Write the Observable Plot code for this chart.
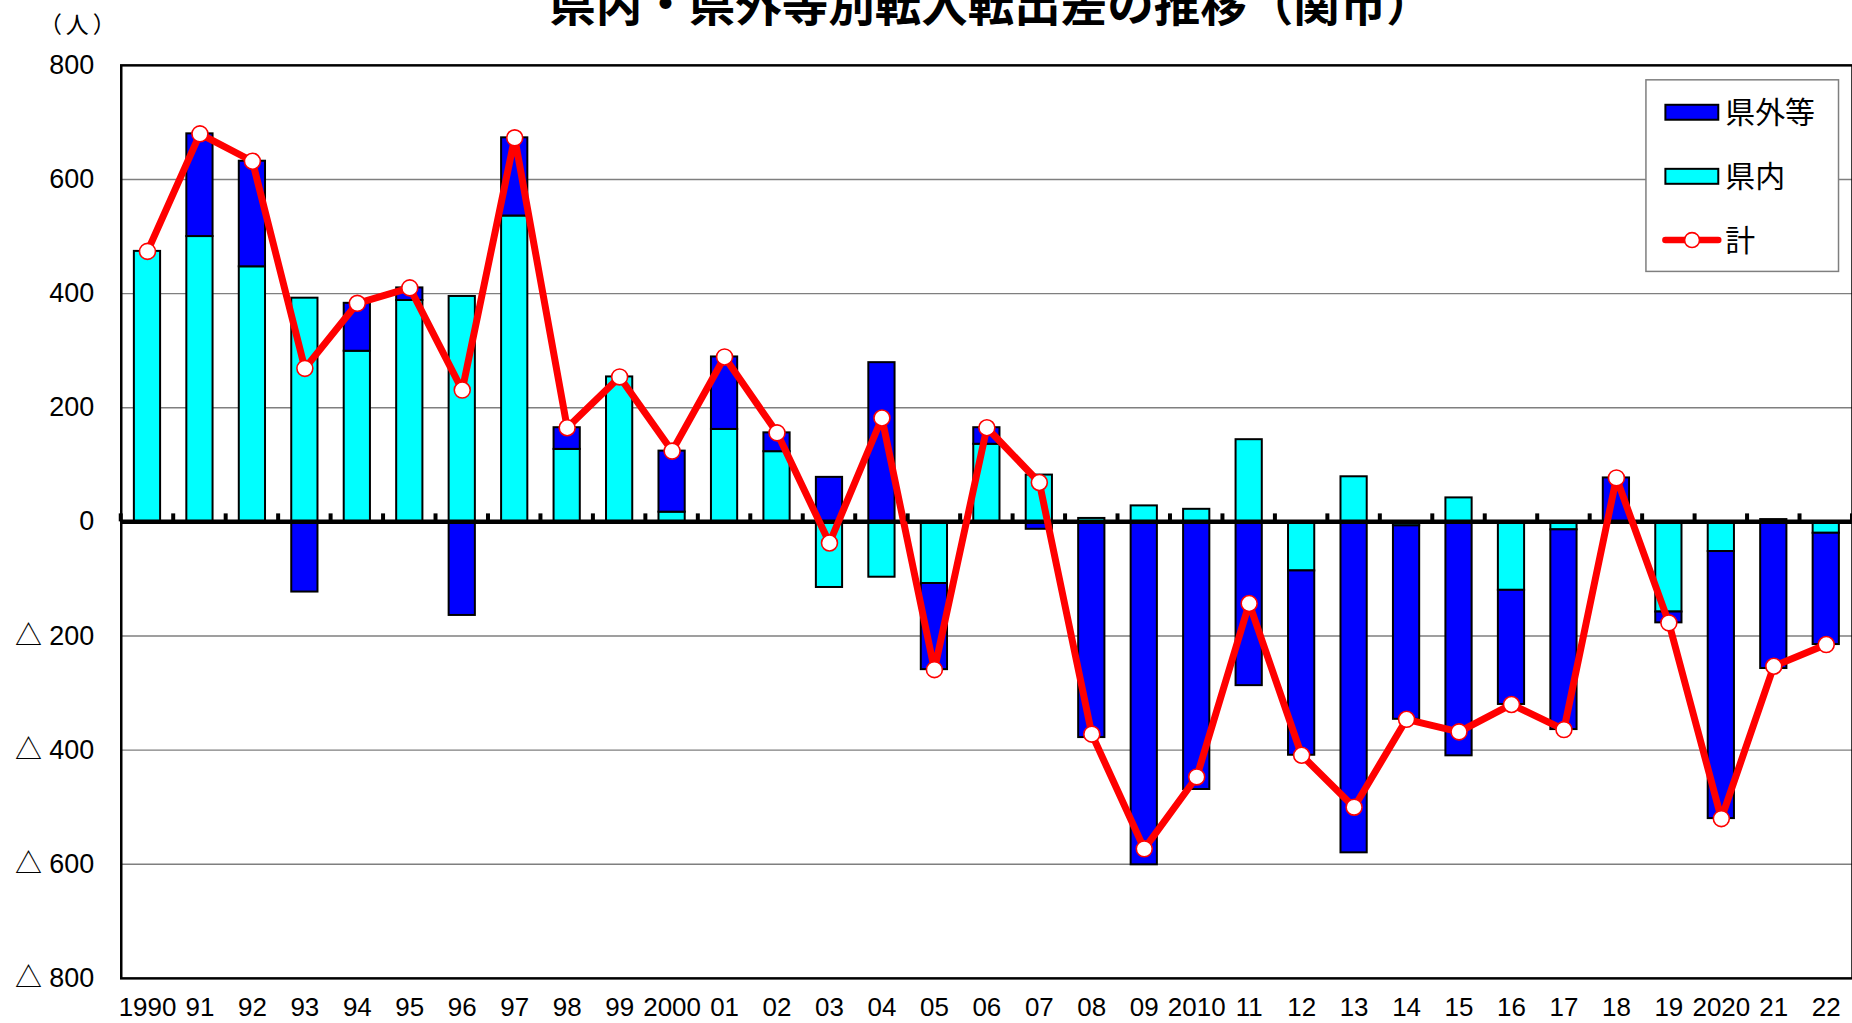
<!DOCTYPE html>
<html>
<head>
<meta charset="utf-8">
<script src="https://cdn.jsdelivr.net/npm/d3@7"></script>
<script src="https://cdn.jsdelivr.net/npm/@observablehq/plot@0.6"></script>
<style>
  html, body { margin: 0; padding: 0; background: #fff; overflow: hidden; }
  #wrap { position: relative; width: 1852px; height: 1023px; overflow: hidden; }
  #title {
    position: absolute; left: 991px; top: -22px; transform: translateX(-50%);
    font-family: "Noto Sans CJK JP", sans-serif; font-weight: bold; font-size: 46.5px;
    line-height: 1; white-space: nowrap; color: #000; z-index: 2;
  }
  #chart { position: absolute; left: 0; top: 0; }
</style>
</head>
<body>
<div id="wrap">
  <div id="chart"></div>
  <div id="title">県内・県外等別転入転出差の推移（関市）</div>
</div>
<script>
// ---- data ----
const years = ["1990","91","92","93","94","95","96","97","98","99",
               "2000","01","02","03","04","05","06","07","08","09",
               "2010","11","12","13","14","15","16","17","18","19",
               "2020","21","22"];
// 県内 (within prefecture)
const kennai = [474, 500, 447, 392, 299, 388, 395, 536, 127, 254,
                17, 162, 123, -115, -97, -108, 136, 82, 6, 28,
                22, 144, -86, 79, -7, 42, -120, -14, 0, -158,
                -52, 4, -20];
// 県外等 (outside prefecture etc.)
const kengai = [0, 180, 185, -123, 84, 22, -164, 137, 38, 0,
                107, 127, 33, 78, 279, -151, 29, -13, -378, -601,
                -469, -287, -323, -580, -339, -410, -200, -350, 77, -19,
                -468, -257, -195];
// 計 (total)
const total = [474, 680, 632, 269, 383, 410, 231, 673, 165, 254,
               124, 289, 156, -37, 182, -259, 165, 69, -372, -573,
               -447, -143, -409, -500, -346, -368, -320, -364, 77, -177,
               -520, -253, -215];
const yTicks = [-800, -600, -400, -200, 0, 200, 400, 600, 800];
const seriesNames = ["県内", "県外等"];
const seriesColors = ["#00FFFF", "#0000FF"];
const lineName = "計";
const unitLabel = "（人）";

// ---- tables built from the arrays ----
const bars = [];
years.forEach((yr, i) => bars.push({year: yr, series: "県内", value: kennai[i]}));
years.forEach((yr, i) => bars.push({year: yr, series: "県外等", value: kengai[i]}));
const totals = years.map((yr, i) => ({year: yr, value: total[i]}));

const fmtY = d => d < 0 ? "△ " + Math.abs(d) : String(d);

const chart = Plot.plot({
  width: 1856,
  height: 1023,
  marginLeft: 121,
  marginRight: 0,
  marginTop: 65,
  marginBottom: 43,
  style: {fontFamily: "'Liberation Sans', 'Noto Sans CJK JP', sans-serif", background: "white", overflow: "visible"},
  x: {domain: years, paddingInner: 0.5, paddingOuter: 0.25, round: false, label: null},
  y: {domain: [-800, 800], label: null},
  color: {domain: seriesNames, range: seriesColors},
  marks: [
    Plot.gridY(yTicks.filter(d => d !== 0 && Math.abs(d) < 800), {stroke: "#7f7f7f", strokeOpacity: 1, strokeWidth: 1.3}),
    Plot.barY(bars, {x: "year", y: "value", fill: "series", stroke: "black", strokeWidth: 2, order: seriesNames}),
    Plot.ruleY([0], {stroke: "black", strokeWidth: 4.5}),
    Plot.frame({stroke: "black", strokeWidth: 2.5}),
    Plot.line(totals, {x: "year", y: "value", stroke: "#FF0000", strokeWidth: 7, strokeLinejoin: "miter"}),
    Plot.dot(totals, {x: "year", y: "value", r: 8, fill: "white", stroke: "#FF0000", strokeWidth: 1.6}),
    Plot.axisY({ticks: yTicks, tickSize: 0, tickPadding: 27, tickFormat: fmtY, fontSize: 27, fill: "black", label: null}),
    Plot.axisX({tickSize: 0, tickPadding: 19, fontSize: 26, fill: "black", label: null,
                fontFamily: "'Liberation Sans Narrow', 'Liberation Sans', sans-serif"})
  ]
});

// small tick marks on the zero line at category boundaries (from the scales)
const svg = d3.select(chart);
const xs = chart.scale("x");
const ys = chart.scale("y");
const y0 = ys.apply(0);
const gap = (xs.step - xs.bandwidth) / 2;
const bounds = years.map(yr => xs.apply(yr) - gap);
bounds.push(xs.apply(years[years.length - 1]) + xs.bandwidth + gap);
svg.append("g").selectAll("rect").data(bounds).join("rect")
  .attr("x", d => d - 2).attr("y", y0 - 8).attr("width", 4).attr("height", 8).attr("fill", "black");

// unit label
svg.append("text").attr("x", 79.5).attr("y", 25).attr("dy", "0.36em")
  .attr("text-anchor", "middle").attr("font-family", "'Noto Sans CJK JP', sans-serif")
  .attr("font-size", 23).attr("letter-spacing", 4).attr("fill", "black").text(unitLabel);

// legend
const lg = svg.append("g").attr("font-family", "'Noto Sans CJK JP', sans-serif")
  .attr("font-size", 30).attr("text-anchor", "start");
lg.append("rect").attr("x", 1649.5).attr("y", 80).attr("width", 193).attr("height", 192)
  .attr("fill", "white").attr("stroke", "#7f7f7f").attr("stroke-width", 1.5);
const items = [
  {name: seriesNames[1], color: seriesColors[1], cy: 112.5},
  {name: seriesNames[0], color: seriesColors[0], cy: 176.7}
];
items.forEach(it => {
  lg.append("rect").attr("x", 1669).attr("y", it.cy - 7.5).attr("width", 53).attr("height", 15)
    .attr("fill", it.color).attr("stroke", "black").attr("stroke-width", 2);
  lg.append("text").attr("x", 1729).attr("y", it.cy).attr("dy", "0.36em").attr("fill", "black").text(it.name);
});
const ly = 240.6;
lg.append("line").attr("x1", 1669).attr("x2", 1722).attr("y1", ly).attr("y2", ly)
  .attr("stroke", "#FF0000").attr("stroke-width", 6.5).attr("stroke-linecap", "round");
lg.append("circle").attr("cx", 1695.7).attr("cy", ly).attr("r", 7.5)
  .attr("fill", "white").attr("stroke", "#FF0000").attr("stroke-width", 1.6);
lg.append("text").attr("x", 1729).attr("y", ly).attr("dy", "0.36em").attr("fill", "black").text(lineName);

document.getElementById("chart").appendChild(chart);
</script>
</body>
</html>
